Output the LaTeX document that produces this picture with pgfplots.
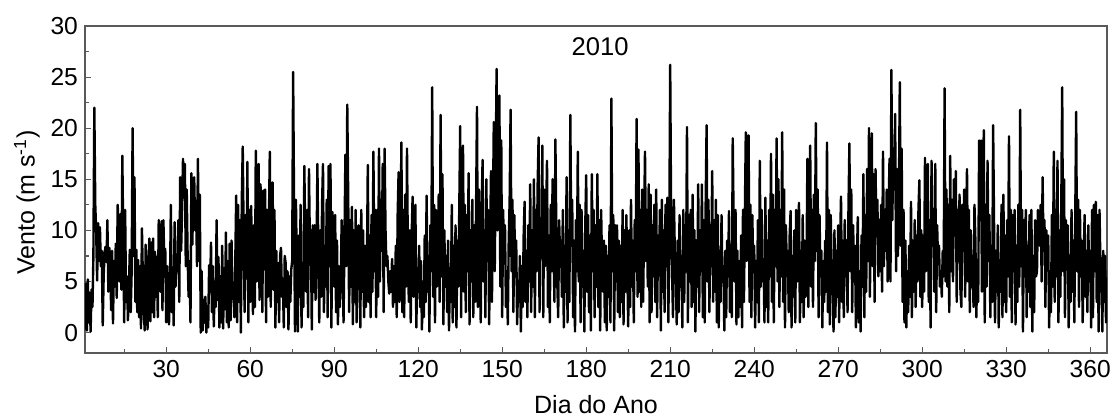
\documentclass[border=0pt]{standalone}
\usepackage{fontspec}
\setmainfont{Liberation Sans}
\usepackage{pgfplots}
\pgfplotsset{compat=1.18}
\usepackage{pgfplotstable}
% hourly-like wind samples, 3 per day, day 1 .. 366
\pgfplotstableread[row sep=\\]{
v\\
0.3\\4.8\\0.2\\5.2\\1.0\\3.9\\0.1\\4.2\\2.5\\7.5\\22.0\\12.5\\9.8\\5.1\\10.7\\
7.0\\10.3\\6.5\\8.0\\0.7\\5.5\\7.8\\8.4\\6.9\\11.0\\4.0\\8.3\\7.2\\2.2\\8.0\\
0.9\\7.0\\4.5\\8.7\\3.4\\12.5\\10.4\\5.0\\11.6\\4.2\\17.3\\9.0\\1.0\\12.0\\3.0\\
5.5\\1.2\\4.0\\8.1\\2.0\\6.0\\20.0\\7.5\\15.2\\3.0\\8.1\\2.0\\7.1\\1.5\\6.5\\
0.4\\10.2\\5.3\\2.0\\0.2\\8.6\\4.5\\0.3\\7.0\\9.2\\1.1\\8.8\\2.0\\9.2\\1.5\\
7.9\\3.5\\7.4\\1.5\\11.0\\6.4\\4.0\\10.9\\2.2\\11.0\\6.8\\8.2\\1.0\\6.5\\3.2\\
0.8\\4.5\\12.5\\2.0\\5.8\\0.7\\10.8\\4.5\\7.0\\6.1\\11.0\\3.0\\15.2\\8.0\\12.0\\
17.0\\13.2\\16.5\\6.5\\14.0\\7.2\\3.5\\7.0\\1.0\\15.6\\8.6\\13.8\\15.2\\10.0\\12.9\\
6.5\\17.0\\7.0\\13.5\\0.0\\6.0\\0.2\\3.2\\1.0\\3.5\\0.0\\2.6\\0.5\\6.6\\4.0\\
8.8\\2.0\\6.5\\0.6\\5.0\\2.5\\11.0\\3.2\\7.4\\0.5\\5.5\\1.0\\8.5\\0.4\\6.3\\
2.3\\9.8\\1.0\\7.0\\0.5\\8.7\\1.2\\9.0\\3.5\\4.0\\1.5\\6.8\\13.4\\1.0\\12.5\\
3.0\\11.0\\0.0\\13.0\\18.2\\9.5\\2.0\\11.5\\5.3\\16.7\\1.0\\12.0\\3.0\\12.4\\6.8\\
1.8\\10.5\\2.5\\17.8\\5.0\\12.0\\16.5\\3.2\\14.5\\12.0\\2.0\\13.9\\6.2\\14.0\\1.0\\
12.0\\3.5\\10.5\\17.7\\2.5\\11.5\\14.7\\4.2\\12.0\\0.5\\8.0\\3.0\\6.8\\1.0\\7.5\\
8.3\\3.5\\5.0\\0.5\\7.5\\6.8\\2.5\\6.0\\0.3\\5.5\\3.0\\6.2\\7.0\\25.5\\12.5\\
0.1\\13.0\\6.0\\0.1\\9.5\\3.5\\12.5\\0.5\\6.0\\2.5\\16.3\\9.0\\4.0\\12.0\\1.5\\
16.0\\8.0\\10.0\\0.3\\10.5\\4.0\\10.5\\3.2\\7.0\\16.5\\8.0\\1.0\\10.0\\3.5\\12.5\\
16.5\\2.0\\8.5\\4.5\\13.0\\1.5\\16.3\\6.5\\16.5\\0.5\\11.8\\5.0\\4.5\\11.5\\2.0\\
9.0\\0.8\\6.5\\2.5\\5.0\\11.0\\7.5\\1.0\\9.0\\17.4\\6.5\\22.3\\13.4\\2.0\\11.0\\
4.5\\12.3\\0.8\\10.0\\3.0\\12.0\\1.0\\7.5\\10.5\\6.5\\0.5\\12.0\\4.0\\10.0\\1.5\\
8.5\\2.5\\6.0\\16.4\\3.0\\9.5\\1.5\\11.5\\4.0\\17.7\\6.0\\12.0\\1.5\\12.0\\3.5\\
18.0\\5.0\\13.0\\8.0\\16.5\\2.0\\18.0\\10.0\\6.5\\7.5\\5.0\\3.8\\6.0\\4.0\\7.2\\
2.5\\6.5\\3.0\\8.5\\1.5\\11.5\\15.7\\3.0\\9.0\\18.6\\2.0\\12.0\\1.5\\13.5\\4.5\\
18.0\\7.0\\3.0\\10.0\\1.0\\9.5\\13.3\\3.5\\7.0\\12.5\\0.5\\6.0\\4.0\\8.5\\2.5\\
7.0\\0.3\\5.0\\1.5\\9.5\\3.0\\13.4\\4.0\\7.5\\0.1\\10.5\\6.0\\24.0\\3.5\\12.5\\
1.0\\12.0\\4.5\\8.0\\13.5\\3.0\\21.3\\5.5\\15.5\\0.8\\10.0\\4.5\\7.5\\2.0\\9.0\\
0.2\\5.5\\3.0\\12.5\\1.0\\8.5\\2.5\\10.5\\0.5\\9.0\\4.5\\12.0\\20.2\\1.5\\15.0\\
18.3\\4.0\\12.5\\2.0\\11.5\\6.0\\15.6\\0.8\\10.0\\5.0\\13.0\\1.5\\10.5\\3.0\\12.0\\
22.1\\2.5\\14.0\\8.0\\1.0\\12.5\\16.9\\5.0\\10.0\\1.5\\15.0\\7.0\\12.0\\0.8\\8.5\\
15.8\\3.0\\11.0\\20.6\\6.0\\16.0\\25.8\\10.0\\19.0\\23.2\\4.5\\18.8\\1.5\\12.0\\7.0\\
10.5\\2.5\\6.0\\0.8\\9.0\\13.0\\21.8\\6.0\\13.0\\2.0\\11.5\\5.5\\9.0\\0.8\\4.5\\
3.0\\7.5\\0.1\\6.5\\2.5\\9.5\\12.8\\3.0\\8.0\\1.5\\10.5\\5.0\\14.5\\2.0\\10.0\\
4.5\\15.0\\1.5\\12.0\\6.0\\14.5\\19.1\\2.0\\11.0\\8.0\\18.3\\1.5\\14.0\\6.5\\11.0\\
16.8\\2.5\\9.5\\1.0\\12.5\\6.0\\15.0\\8.0\\3.0\\18.9\\10.0\\5.0\\1.5\\11.0\\7.5\\
9.0\\3.5\\12.0\\0.5\\8.5\\4.0\\15.2\\1.0\\10.0\\3.0\\21.3\\8.5\\13.0\\1.5\\9.0\\
0.1\\11.0\\6.0\\17.7\\5.0\\12.5\\1.0\\12.0\\4.5\\8.0\\0.1\\10.5\\15.4\\4.0\\11.5\\
2.0\\9.5\\0.2\\15.5\\6.0\\12.0\\1.5\\10.5\\4.5\\15.5\\2.5\\11.0\\0.2\\12.0\\6.5\\
4.0\\9.0\\1.0\\8.5\\0.2\\7.5\\3.5\\10.5\\1.0\\22.9\\6.0\\11.5\\0.2\\10.5\\5.0\\
10.5\\2.0\\9.0\\1.5\\8.5\\3.0\\12.0\\0.8\\10.0\\4.0\\11.5\\6.5\\0.6\\10.0\\2.5\\
13.0\\4.5\\9.0\\1.0\\11.0\\6.0\\20.9\\3.5\\17.9\\4.0\\12.0\\2.5\\14.0\\3.0\\10.5\\
17.7\\7.0\\12.0\\4.5\\14.5\\1.0\\13.5\\2.0\\10.5\\5.5\\12.5\\3.0\\14.0\\1.5\\9.5\\
6.0\\12.0\\0.2\\13.0\\4.0\\10.0\\2.0\\12.5\\6.5\\13.2\\1.0\\9.0\\26.2\\11.0\\6.0\\
1.5\\13.0\\7.5\\5.5\\0.8\\9.0\\2.0\\11.5\\4.5\\7.0\\0.5\\12.0\\3.0\\10.5\\6.0\\
20.1\\1.0\\11.5\\5.0\\12.0\\2.5\\13.5\\3.0\\10.0\\0.1\\9.0\\4.5\\14.5\\2.0\\10.0\\
6.0\\14.5\\1.5\\11.0\\1.0\\12.5\\20.3\\5.0\\13.0\\2.0\\10.5\\6.5\\15.8\\3.0\\11.0\\
4.0\\13.0\\1.0\\11.5\\0.5\\8.0\\3.0\\11.5\\5.0\\6.5\\0.2\\8.0\\1.5\\9.0\\5.5\\
11.9\\2.0\\8.0\\1.5\\19.0\\10.5\\5.0\\12.0\\0.8\\8.0\\1.5\\7.0\\2.5\\9.5\\0.5\\
12.0\\3.0\\11.5\\19.6\\7.0\\14.0\\19.3\\3.0\\12.5\\1.5\\11.5\\6.0\\8.5\\0.5\\7.0\\
3.0\\11.0\\1.0\\16.8\\4.5\\12.0\\5.0\\7.0\\1.0\\13.2\\2.5\\9.0\\1.0\\12.0\\5.5\\
17.5\\3.0\\13.5\\1.0\\12.0\\6.5\\19.0\\5.0\\15.0\\2.5\\12.0\\5.5\\19.6\\3.0\\14.0\\
0.5\\10.5\\6.0\\8.0\\2.0\\9.5\\11.9\\0.5\\7.5\\3.5\\10.0\\1.0\\12.0\\5.0\\9.0\\
12.7\\1.0\\8.0\\3.0\\11.5\\1.5\\9.0\\3.5\\6.0\\17.0\\2.5\\13.0\\18.3\\4.5\\12.0\\
2.5\\13.5\\7.0\\20.5\\8.0\\14.0\\1.5\\11.5\\5.5\\8.0\\0.5\\7.0\\3.0\\9.0\\4.0\\
18.6\\2.0\\12.0\\0.8\\11.5\\6.0\\4.5\\0.1\\10.0\\1.5\\8.0\\3.5\\10.5\\1.0\\8.5\\
13.3\\3.0\\9.0\\1.5\\11.0\\5.5\\9.0\\2.0\\12.0\\18.5\\6.0\\14.0\\2.0\\10.5\\5.0\\
8.5\\0.5\\7.0\\11.3\\1.0\\6.0\\0.1\\9.5\\4.5\\15.5\\1.5\\11.5\\4.0\\16.0\\7.0\\
20.0\\3.5\\14.5\\19.5\\6.5\\15.5\\3.0\\16.0\\9.5\\13.0\\5.5\\11.0\\6.0\\12.5\\4.0\\
17.7\\6.5\\12.0\\8.0\\14.0\\5.0\\12.0\\17.0\\5.0\\25.7\\11.0\\18.0\\14.0\\21.4\\6.0\\
16.0\\7.5\\13.0\\24.5\\8.5\\18.0\\3.0\\12.0\\1.0\\9.0\\0.5\\6.0\\2.0\\8.5\\3.5\\
12.8\\1.5\\9.0\\4.0\\11.0\\2.5\\9.5\\5.0\\12.0\\14.9\\3.5\\10.0\\2.5\\9.5\\4.0\\
17.1\\6.0\\12.5\\16.5\\3.0\\11.0\\0.5\\16.8\\8.5\\12.0\\4.0\\16.5\\2.0\\10.5\\7.0\\
8.5\\4.5\\6.0\\3.5\\8.0\\5.5\\23.9\\5.0\\14.0\\4.5\\12.5\\2.0\\17.3\\6.0\\13.0\\
5.0\\15.0\\9.5\\15.8\\3.0\\12.0\\7.0\\13.5\\4.0\\2.5\\12.5\\8.0\\14.0\\3.5\\10.5\\
16.0\\5.0\\12.0\\2.0\\10.0\\4.5\\7.5\\2.5\\12.5\\9.0\\1.5\\6.5\\3.0\\18.8\\11.0\\
18.8\\4.0\\13.0\\19.8\\1.0\\12.5\\4.5\\16.8\\7.0\\11.5\\1.5\\8.5\\3.0\\20.3\\10.5\\
1.0\\8.0\\4.0\\10.5\\0.5\\7.0\\4.0\\12.5\\1.5\\13.5\\3.0\\9.5\\2.0\\11.0\\5.5\\
19.2\\3.5\\12.0\\1.0\\11.5\\6.0\\12.0\\0.8\\8.5\\3.0\\12.5\\4.5\\21.8\\6.5\\12.0\\
0.1\\11.0\\5.5\\12.0\\1.5\\8.5\\4.0\\11.5\\2.5\\12.0\\0.1\\7.5\\2.0\\11.0\\5.5\\
6.0\\12.0\\9.5\\8.5\\12.5\\5.0\\15.2\\8.0\\11.0\\2.5\\10.0\\6.5\\9.5\\0.5\\6.0\\
2.0\\11.5\\4.5\\17.7\\3.0\\12.0\\5.5\\16.8\\1.0\\10.0\\3.5\\12.0\\24.0\\6.0\\15.0\\
1.5\\11.0\\7.0\\10.5\\0.5\\7.5\\3.0\\12.0\\4.0\\9.0\\1.0\\11.0\\21.6\\6.0\\13.0\\
2.5\\12.0\\5.5\\9.0\\1.0\\7.0\\11.5\\3.5\\8.0\\2.0\\10.5\\5.0\\8.0\\0.5\\12.0\\
1.5\\12.5\\6.0\\12.8\\3.0\\11.5\\0.1\\12.0\\6.5\\5.9\\0.1\\8.0\\3.0\\7.5\\1.0\\
5.4\\
}\wind
\begin{document}
\begin{tikzpicture}
\begin{axis}[
  at={(0pt,0pt)}, anchor=south west,
  scale only axis, width=511pt, height=163.5pt,
  xmin=1, xmax=366, ymin=-2, ymax=30,
  xtick={30,60,...,360}, ytick={0,5,...,30},
  minor xtick={15,45,...,345}, minor ytick={2.5,7.5,...,27.5},
  tick align=inside, tick pos=left,
  major tick length=3pt, minor tick length=2pt,
  axis line style={draw=black!65, line width=0.6pt},
  every tick/.style={draw=black!65, line width=0.6pt},
  /pgf/number format/assume math mode=true,
  ticklabel style={font=\fontsize{12.3}{14}\selectfont},
  xlabel={Dia do Ano},
  ylabel={Vento (m s\textsuperscript{-1})},
  xlabel style={font=\fontsize{12.5}{15}\selectfont, at={(axis description cs:0.5,0)}, anchor=center, yshift=-26pt},
  every axis y label/.style={font=\fontsize{12.5}{15}\selectfont, at={(axis description cs:-0.0568,0.46)}, anchor=center, rotate=90},
]
\addplot[black, line width=1.2pt, line join=round, no marks] table[x expr=\coordindex/3+1, y=v]{\wind};
\node[font=\fontsize{12.8}{15}\selectfont, anchor=center] at (axis cs:185,28.0) {2010};
\end{axis}
\pgfresetboundingbox
\useasboundingbox (-42.5pt,-32.5pt) rectangle (515pt,176.5pt);
\end{tikzpicture}
\end{document}
